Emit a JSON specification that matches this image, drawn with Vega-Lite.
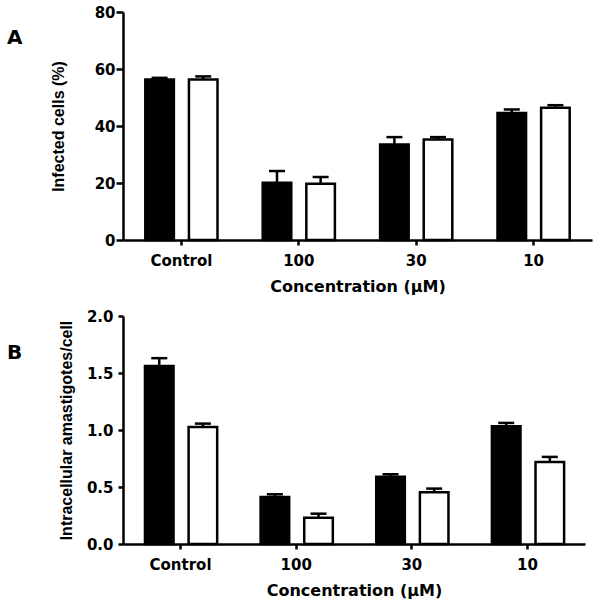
{
  "$schema": "https://vega.github.io/schema/vega-lite/v6.json",
  "padding": {"left": 7, "top": 5, "right": 5, "bottom": 5},
  "spacing": 15,
  "background": "white",
  "config": {
    "view": {"stroke": null},
    "axis": {
      "grid": false,
      "domainColor": "black",
      "domainWidth": 2.5,
      "tickColor": "black",
      "tickWidth": 2.5,
      "labelColor": "black",
      "labelFont": "DejaVu Sans",
      "labelFontWeight": "bold",
      "labelFontSize": 15,
      "titleColor": "black",
      "titleFontWeight": "bold",
      "titleFontSize": 16
    }
  },
  "datasets": {
    "bars": [
      {"panel": "A", "conc": "Control", "group": "black", "value": 56.3, "err": 56.9},
      {"panel": "A", "conc": "Control", "group": "white", "value": 56.3, "err": 57.4},
      {"panel": "A", "conc": "100", "group": "black", "value": 20.1, "err": 24.2},
      {"panel": "A", "conc": "100", "group": "white", "value": 19.7, "err": 22.1},
      {"panel": "A", "conc": "30", "group": "black", "value": 33.5, "err": 36.1},
      {"panel": "A", "conc": "30", "group": "white", "value": 35.3, "err": 36.1},
      {"panel": "A", "conc": "10", "group": "black", "value": 44.6, "err": 45.8},
      {"panel": "A", "conc": "10", "group": "white", "value": 46.4, "err": 47.3},
      {"panel": "B", "conc": "Control", "group": "black", "value": 1.562, "err": 1.63},
      {"panel": "B", "conc": "Control", "group": "white", "value": 1.027, "err": 1.056},
      {"panel": "B", "conc": "100", "group": "black", "value": 0.413, "err": 0.436},
      {"panel": "B", "conc": "100", "group": "white", "value": 0.231, "err": 0.266},
      {"panel": "B", "conc": "30", "group": "black", "value": 0.591, "err": 0.612},
      {"panel": "B", "conc": "30", "group": "white", "value": 0.454, "err": 0.486},
      {"panel": "B", "conc": "10", "group": "black", "value": 1.033, "err": 1.062},
      {"panel": "B", "conc": "10", "group": "white", "value": 0.72, "err": 0.764}
    ]
  },
  "vconcat": [
    {
      "width": 469,
      "height": 228,
      "title": {"text": "A", "anchor": "start", "frame": "group", "offset": 0, "dx": -116, "dy": 43, "font": "DejaVu Sans", "fontSize": 20, "fontWeight": "bold", "color": "black"},
      "data": {"name": "bars"},
      "transform": [{"filter": "datum.panel === 'A'"}],
      "encoding": {
        "x": {
          "field": "conc", "type": "nominal", "sort": ["Control", "100", "30", "10"],
          "scale": {"paddingInner": 0.385, "paddingOuter": 0.19},
          "axis": {"title": "Concentration (µM)", "labelAngle": 0, "tickSize": 5, "labelPadding": 8, "titlePadding": 10, "titleFont": "DejaVu Sans"}
        },
        "xOffset": {"field": "group", "type": "nominal", "scale": {"paddingInner": 0.345, "paddingOuter": 0}}
      },
      "layer": [
        {
          "mark": {"type": "bar", "stroke": "black", "strokeWidth": 2.5},
          "encoding": {
            "y": {
              "field": "value", "type": "quantitative", "scale": {"domain": [0, 80], "nice": false},
              "axis": {
                "title": "Infected cells (%)", "titleFont": "Liberation Sans", "titlePadding": 28,
                "values": [0, 10, 20, 30, 40, 50, 60, 70, 80],
                "labelExpr": "datum.value % 20 === 0 ? datum.label : ''",
                "tickSize": {"condition": {"test": "datum.value % 20 !== 0", "value": 5}, "value": 7},
                "labelPadding": 1
              }
            },
            "fill": {"field": "group", "type": "nominal", "scale": {"domain": ["black", "white"], "range": ["black", "white"]}, "legend": null}
          }
        },
        {
          "mark": {"type": "rule", "color": "black", "strokeWidth": 2.5},
          "encoding": {"y": {"field": "value", "type": "quantitative"}, "y2": {"field": "err"}}
        },
        {
          "mark": {"type": "tick", "orient": "horizontal", "size": 16, "thickness": 2.5, "color": "black", "opacity": 1},
          "encoding": {"y": {"field": "err", "type": "quantitative"}}
        }
      ]
    },
    {
      "width": 462,
      "height": 228,
      "title": {"text": "B", "anchor": "start", "frame": "group", "offset": 0, "dx": -116, "dy": 54, "font": "DejaVu Sans", "fontSize": 20, "fontWeight": "bold", "color": "black"},
      "data": {"name": "bars"},
      "transform": [{"filter": "datum.panel === 'B'"}],
      "encoding": {
        "x": {
          "field": "conc", "type": "nominal", "sort": ["Control", "100", "30", "10"],
          "scale": {"paddingInner": 0.385, "paddingOuter": 0.19},
          "axis": {"title": "Concentration (µM)", "labelAngle": 0, "tickSize": 5, "labelPadding": 8, "titlePadding": 10, "titleFont": "DejaVu Sans"}
        },
        "xOffset": {"field": "group", "type": "nominal", "scale": {"paddingInner": 0.345, "paddingOuter": 0}}
      },
      "layer": [
        {
          "mark": {"type": "bar", "stroke": "black", "strokeWidth": 2.5},
          "encoding": {
            "y": {
              "field": "value", "type": "quantitative", "scale": {"domain": [0, 2], "nice": false},
              "axis": {
                "title": "Intracellular amastigotes/cell", "titleFont": "Liberation Sans", "titlePadding": 12,
                "values": [0, 0.5, 1, 1.5, 2], "format": ".1f",
                "tickSize": 5, "labelPadding": 5
              }
            },
            "fill": {"field": "group", "type": "nominal", "scale": {"domain": ["black", "white"], "range": ["black", "white"]}, "legend": null}
          }
        },
        {
          "mark": {"type": "rule", "color": "black", "strokeWidth": 2.5},
          "encoding": {"y": {"field": "value", "type": "quantitative"}, "y2": {"field": "err"}}
        },
        {
          "mark": {"type": "tick", "orient": "horizontal", "size": 16, "thickness": 2.5, "color": "black", "opacity": 1},
          "encoding": {"y": {"field": "err", "type": "quantitative"}}
        }
      ]
    }
  ]
}
